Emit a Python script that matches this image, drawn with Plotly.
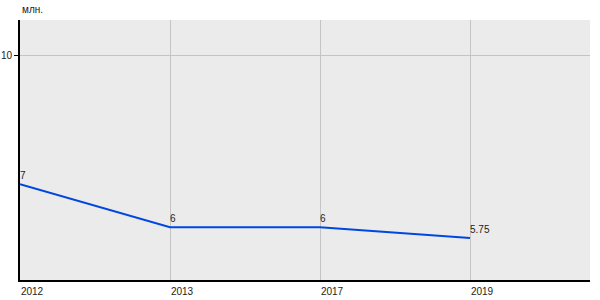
import plotly.graph_objects as go

years = ["2012", "2013", "2017", "2019"]
values = [7, 6, 6, 5.75]
labels = ["7", "6", "6", "5.75"]
y_ticks = [10]
y_unit = "млн."

xs = list(range(len(years)))

fig = go.Figure()
fig.add_trace(go.Scatter(
    x=xs, y=values, mode="lines",
    line=dict(color="#0047e0", width=2),
    hoverinfo="skip",
))

annotations = [dict(
    text=lab, x=x, y=v, xref="x", yref="y",
    xanchor="left", yanchor="bottom", showarrow=False,
    xshift=-2, yshift=1, font=dict(size=10, color="#222"),
) for x, v, lab in zip(xs, values, labels)]

annotations.append(dict(
    text=y_unit, xref="paper", yref="paper", x=0, y=1,
    xanchor="left", yanchor="bottom", showarrow=False, yshift=3,
    font=dict(size=10, color="#222"),
))

fig.update_layout(
    width=600, height=300,
    margin=dict(l=20, r=10, t=20, b=20),
    paper_bgcolor="white", plot_bgcolor="#ebebeb",
    showlegend=False,
    font=dict(family="Arial, Liberation Sans", size=10, color="#222"),
    xaxis=dict(
        range=[0, 3.8], tickvals=xs, ticktext=years,
        showgrid=True, gridcolor="#c4c4c4", gridwidth=1,
        showline=True, linecolor="black", linewidth=2,
        ticks="", zeroline=False, ticklabelshift=12,
        ticklabelstandoff=1, automargin=False,
    ),
    yaxis=dict(
        range=[4.77, 10.82], tickvals=y_ticks,
        showgrid=True, gridcolor="#c4c4c4", gridwidth=1,
        showline=True, linecolor="black", linewidth=2,
        ticks="outside", ticklen=4, tickcolor="black", zeroline=False,
        automargin=False,
    ),
    annotations=annotations,
)

fig.write_html("out.html")
